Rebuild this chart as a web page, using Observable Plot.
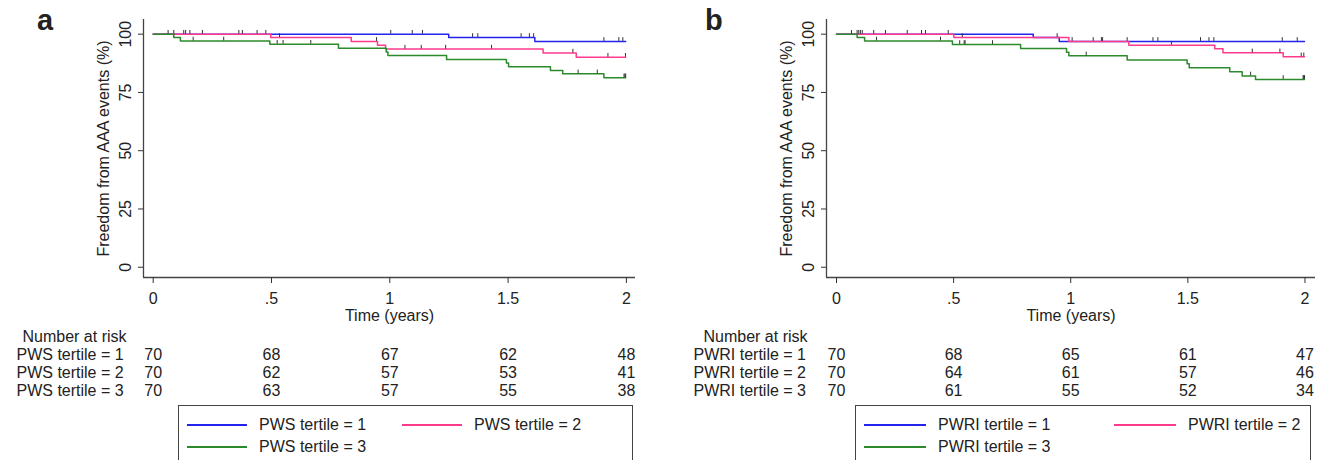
<!DOCTYPE html>
<html><head><meta charset="utf-8">
<script src="https://cdn.jsdelivr.net/npm/d3@7"></script>
<script src="https://cdn.jsdelivr.net/npm/@observablehq/plot@0.6"></script>
<style>
body{margin:0;width:1322px;height:460px;overflow:hidden;background:#fff;font-family:"Liberation Sans",Arial,sans-serif;color:#222;position:relative}
.panel{position:absolute;top:0;height:460px}
.panel svg{position:absolute;left:0;overflow:visible}
.tag{position:absolute;font-weight:bold;font-size:29px;top:3px;line-height:34px}
.legend{position:absolute;top:405px;height:62px;border:1px solid #444;box-sizing:border-box;font-size:16px;background:#fff}
.item{position:absolute;height:20px;line-height:20px;white-space:nowrap}
.item .ln{position:absolute;top:9px;height:1.6px}
.item .tx{position:absolute;top:0}
</style>
</head><body>
<div id="pa" class="panel" style="left:0;width:661px"></div>
<div id="pb" class="panel" style="left:680px;width:642px"></div>
<script>
// ---- data ----
const riskTimes = [0, 0.5, 1, 1.5, 2];
const seriesColors = ["#2323ee", "#ff3a8c", "#2b8a2b"];

// Panel a: PWS tertiles, Kaplan-Meier steps [time, survival %]
const pwsNames = ["PWS tertile = 1", "PWS tertile = 2", "PWS tertile = 3"];
const pwsT1 = [[0,100],[1.249,98.6],[1.613,96.9],[1.997,96.9]];
const pwsT2 = [[0,100],[0.497,98.6],[0.837,96.9],[0.948,95.3],[0.982,93.6],[1.648,91.9],[1.788,90.1],[1.997,90.1]];
const pwsT3 = [[0,100],[0.087,98.6],[0.115,97.1],[0.493,95.7],[0.783,94.0],[0.985,92.4],[0.992,90.9],[1.240,89.1],[1.493,87.6],[1.502,86.0],[1.679,84.4],[1.731,83.0],[1.905,81.3],[1.997,81.3]];
// censoring times
const pwsC1 = [1.004,1.095,1.138,1.350,1.372,1.555,1.590,1.608,1.905,1.968,1.985];
const pwsC2 = [0.063,0.087,0.129,0.137,0.155,0.208,0.362,0.377,0.439,0.476,0.534,0.944,1.064,1.133,1.236,1.430,1.774,1.922,1.996];
const pwsC3 = [0.169,0.298,0.524,0.549,0.666,1.796,1.877,1.990,1.994,1.997];
const pwsRisk1 = [70,68,67,62,48];
const pwsRisk2 = [70,62,57,53,41];
const pwsRisk3 = [70,63,57,55,38];

// Panel b: PWRI tertiles
const pwriNames = ["PWRI tertile = 1", "PWRI tertile = 2", "PWRI tertile = 3"];
const pwriT1 = [[0,100],[0.840,98.6],[0.951,96.9],[1.998,96.9]];
const pwriT2 = [[0,100],[0.501,98.6],[0.992,96.9],[1.248,95.3],[1.615,93.7],[1.650,92.0],[1.907,90.3],[1.998,90.3]];
const pwriT3 = [[0,100],[0.088,98.6],[0.120,97.1],[0.495,95.6],[0.786,93.9],[0.982,92.3],[0.992,90.7],[1.241,88.9],[1.497,87.3],[1.506,85.6],[1.679,83.9],[1.732,82.1],[1.789,80.6],[1.998,80.6]];
const pwriC1 = [0.942,1.006,1.096,1.131,1.136,1.241,1.351,1.372,1.554,1.590,1.611,1.903,1.967];
const pwriC2 = [0.064,0.088,0.095,0.102,0.110,0.159,0.209,0.302,0.363,0.380,0.477,0.537,1.430,1.775,1.893,1.984,1.995];
const pwriC3 = [0.171,0.444,0.526,0.545,0.549,0.666,1.066,1.768,1.907,1.992,1.995,1.998];
const pwriRisk1 = [70,68,65,61,47];
const pwriRisk2 = [70,64,61,57,46];
const pwriRisk3 = [70,61,55,52,34];

const yTicks = [0,25,50,75,100];

// ---- drawing ----
const FONT = '"Liberation Sans", Arial, sans-serif';
function survAt(curve, t){ let s = curve[0][1]; for (const [ti, si] of curve) if (ti <= t) s = si; return s; }

function drawPanel(cfg){
  const host = document.getElementById(cfg.id);
  const yDomain = [-4.4, 106.3];
  const lineData = cfg.curves.flatMap((c,i) => c.map(([t,s]) => ({t, s, g: cfg.names[i]})));
  const tickData = cfg.censors.flatMap((c,i) => c.map(t => ({t, s: survAt(cfg.curves[i], t)})));
  const chart = Plot.plot({
    width: cfg.width, height: 322,
    marginLeft: cfg.marginLeft, marginRight: cfg.marginRight, marginTop: 19, marginBottom: 45,
    style: {fontFamily: FONT, fontSize: "16px", color: "#333", background: "transparent", overflow: "visible"},
    x: {domain: cfg.xDomain},
    y: {domain: yDomain},
    color: {domain: cfg.names, range: seriesColors},
    marks: [
      Plot.ruleX([cfg.xDomain[0]], {stroke: "#444", strokeWidth: 1.3}),
      Plot.ruleY([yDomain[0]], {stroke: "#444", strokeWidth: 1.3}),
      Plot.axisY({ticks: yTicks, tickSize: 5, tickPadding: 8, tickRotate: -90, label: "Freedom from AAA events (%)", labelAnchor: "center", labelOffset: 46, labelArrow: "none", fill: "#222"}),
      Plot.axisX({ticks: riskTimes, tickSize: 6, tickPadding: 9, tickFormat: d => d === 0 ? "0" : String(d).replace(/^0\./, "."), label: "Time (years)", labelAnchor: "center", labelOffset: 43, labelArrow: "none", fill: "#222"}),
      Plot.line(lineData, {x: "t", y: "s", z: "g", stroke: "g", curve: "step-after", strokeWidth: 1.5}),
      Plot.ruleX(tickData, {x: "t", y1: "s", y2: d => d.s + 1.6, stroke: "#333", strokeWidth: 1})
    ]
  });
  chart.style.top = "0px";
  host.appendChild(chart);

  const rows = ["h", "1", "2", "3"];
  const riskData = cfg.risk.flatMap((r,i) => r.map((n,j) => ({t: riskTimes[j], row: rows[i+1], n})));
  const labelData = cfg.names.map((nm,i) => ({row: rows[i+1], label: nm}));
  const table = Plot.plot({
    width: cfg.width, height: 80,
    marginLeft: cfg.marginLeft, marginRight: cfg.marginRight, marginTop: 0, marginBottom: 0,
    style: {fontFamily: FONT, fontSize: "16px", color: "#222", background: "transparent", overflow: "visible"},
    x: {domain: cfg.xDomain, axis: null},
    y: {type: "point", domain: rows, range: [13, 68.5], padding: 0, axis: null},
    marks: [
      Plot.text([{row: "h", label: "Number at risk"}], {y: "row", text: "label", frameAnchor: "left", textAnchor: "start", dx: cfg.headX - cfg.marginLeft, fill: "#222"}),
      Plot.text(labelData, {y: "row", text: "label", frameAnchor: "left", textAnchor: "start", dx: cfg.rowX - cfg.marginLeft, fill: "#222"}),
      Plot.text(riskData, {x: "t", y: "row", text: "n", fill: "#222"})
    ]
  });
  table.style.top = "322px";
  host.appendChild(table);

  const tag = document.createElement("div");
  tag.className = "tag"; tag.textContent = cfg.tag; tag.style.left = cfg.tagX + "px";
  host.appendChild(tag);

  const lg = document.createElement("div");
  lg.className = "legend";
  lg.style.left = cfg.legend.left + "px"; lg.style.width = cfg.legend.width + "px";
  cfg.names.forEach((nm, i) => {
    const pos = cfg.legend.items[i];
    const it = document.createElement("div");
    it.className = "item"; it.style.left = pos[0] + "px"; it.style.top = pos[1] + "px";
    const ln = document.createElement("div");
    ln.className = "ln"; ln.style.left = "0px"; ln.style.width = cfg.legend.lineW + "px"; ln.style.background = seriesColors[i];
    const tx = document.createElement("div");
    tx.className = "tx"; tx.style.left = (cfg.legend.lineW + 12) + "px"; tx.textContent = nm;
    it.appendChild(ln); it.appendChild(tx); lg.appendChild(it);
  });
  host.appendChild(lg);
}

drawPanel({
  id: "pa", tag: "a", tagX: 37, width: 661, marginLeft: 143, marginRight: 26,
  xDomain: [-0.041, 2.0385],
  names: pwsNames, curves: [pwsT1, pwsT2, pwsT3], censors: [pwsC1, pwsC2, pwsC3],
  risk: [pwsRisk1, pwsRisk2, pwsRisk3], headX: 22, rowX: 16,
  legend: {left: 178, width: 455, lineW: 60, items: [[8, 9], [223, 9], [8, 31]]}
});
drawPanel({
  id: "pb", tag: "b", tagX: 25, width: 642, marginLeft: 146, marginRight: 7,
  xDomain: [-0.0427, 2.045],
  names: pwriNames, curves: [pwriT1, pwriT2, pwriT3], censors: [pwriC1, pwriC2, pwriC3],
  risk: [pwriRisk1, pwriRisk2, pwriRisk3], headX: 23, rowX: 13,
  legend: {left: 175, width: 456, lineW: 62, items: [[8, 9], [258, 9], [8, 31]]}
});
</script>
</body></html>
